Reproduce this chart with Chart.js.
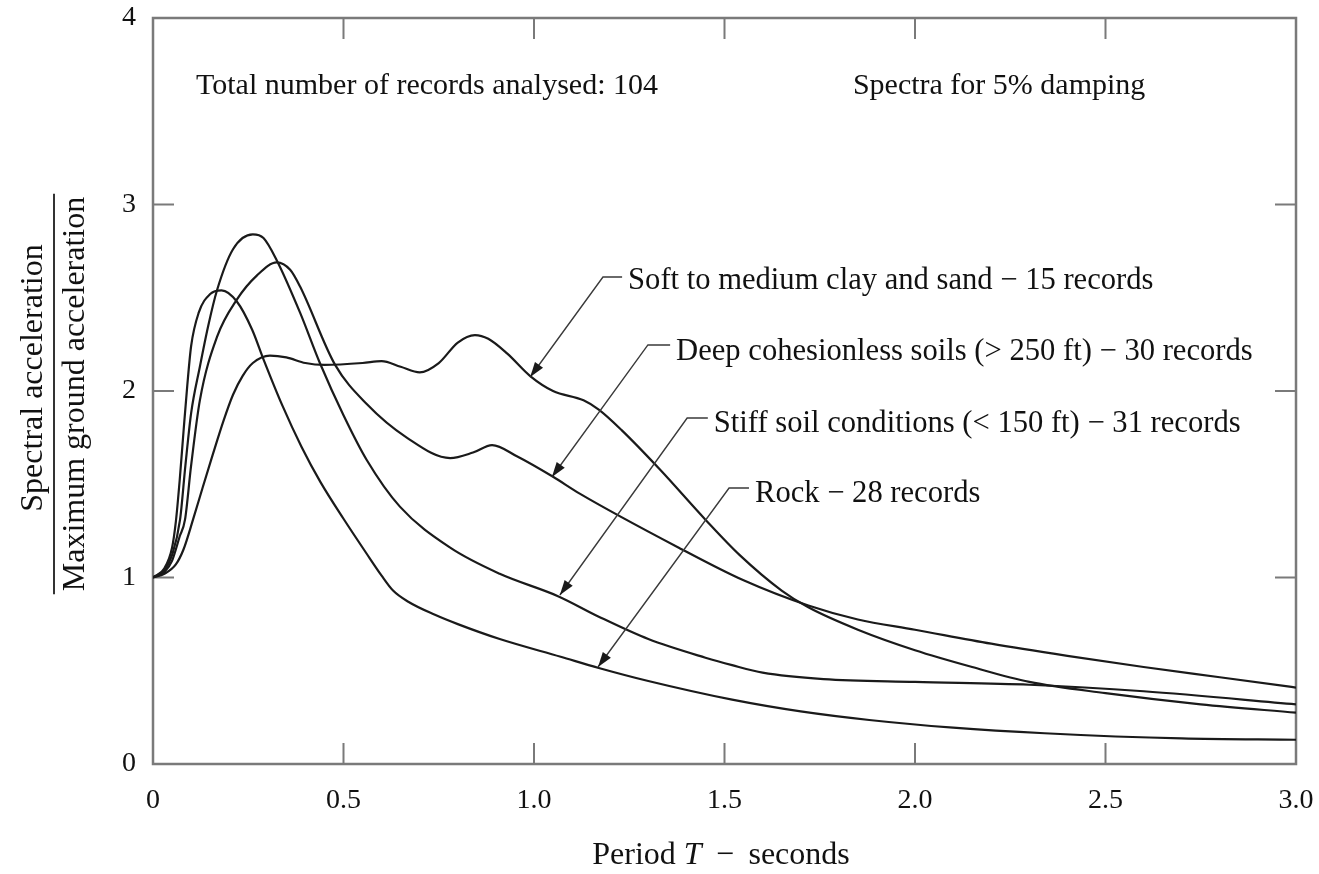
<!DOCTYPE html>
<html>
<head>
<meta charset="utf-8">
<title>Average acceleration spectra</title>
<script src="https://cdn.jsdelivr.net/npm/chart.js@4.4.1/dist/chart.umd.min.js"></script>
<style>
body { margin: 0; background: #ffffff; }
#box { width: 1319px; height: 874px; position: relative; }
</style>
</head>
<body>
<div id="box"><canvas id="myCanvas"></canvas></div>
<script>
// period T (s) and spectral / ground acceleration
var rockT  = [0, 0.03, 0.05, 0.06, 0.07, 0.08, 0.09, 0.1, 0.12, 0.15, 0.18, 0.22, 0.26, 0.29, 0.34, 0.39, 0.44, 0.5, 0.56, 0.6, 0.63, 0.67, 0.74, 0.8, 0.91, 1.07, 1.17, 1.3, 1.52, 1.7, 1.88, 2.1, 2.34, 2.7, 3.0];
var rockSa = [1, 1.05, 1.16, 1.3, 1.52, 1.78, 2.03, 2.24, 2.42, 2.52, 2.54, 2.48, 2.33, 2.17, 1.92, 1.70, 1.51, 1.315, 1.13, 1.01, 0.93, 0.87, 0.80, 0.75, 0.67, 0.575, 0.515, 0.445, 0.345, 0.282, 0.236, 0.195, 0.165, 0.137, 0.13];

var stiffT  = [0, 0.03, 0.05, 0.071, 0.085, 0.1, 0.123, 0.145, 0.168, 0.21, 0.262, 0.29, 0.325, 0.386, 0.438, 0.5, 0.561, 0.648, 0.78, 0.91, 1.063, 1.17, 1.3, 1.45, 1.52, 1.6, 1.76, 2.0, 2.3, 2.6, 3.0];
var stiffSa = [1, 1.04, 1.12, 1.31, 1.6, 1.88, 2.13, 2.35, 2.54, 2.76, 2.84, 2.82, 2.7, 2.42, 2.15, 1.87, 1.63, 1.38, 1.16, 1.02, 0.9, 0.79, 0.67, 0.57, 0.53, 0.49, 0.455, 0.44, 0.425, 0.39, 0.32];

var deepT  = [0, 0.03, 0.05, 0.07, 0.084, 0.1, 0.123, 0.168, 0.22, 0.273, 0.325, 0.36, 0.386, 0.478, 0.561, 0.666, 0.78, 0.84, 0.89, 0.955, 1.05, 1.12, 1.38, 1.55, 1.72, 1.85, 2.0, 2.2, 2.4, 2.6, 2.8, 3.0];
var deepSa = [1, 1.03, 1.09, 1.22, 1.31, 1.6, 1.95, 2.29, 2.49, 2.62, 2.69, 2.65, 2.56, 2.14, 1.93, 1.75, 1.64, 1.67, 1.71, 1.65, 1.54, 1.45, 1.16, 0.985, 0.85, 0.775, 0.72, 0.645, 0.58, 0.52, 0.465, 0.41];

var softT  = [0, 0.03, 0.06, 0.08, 0.105, 0.13, 0.157, 0.185, 0.21, 0.235, 0.262, 0.307, 0.35, 0.4, 0.45, 0.55, 0.6, 0.65, 0.7, 0.75, 0.8, 0.845, 0.88, 0.93, 0.99, 1.05, 1.13, 1.17, 1.23, 1.33, 1.45, 1.54, 1.65, 1.72, 1.85, 2.0, 2.15, 2.3, 2.5, 2.75, 3.0];
var softSa = [1, 1.02, 1.07, 1.15, 1.31, 1.48, 1.66, 1.84, 1.98, 2.08, 2.15, 2.19, 2.18, 2.15, 2.14, 2.15, 2.16, 2.13, 2.1, 2.15, 2.26, 2.3, 2.28, 2.2, 2.08, 2.0, 1.95, 1.9, 1.79, 1.58, 1.31, 1.12, 0.93, 0.84, 0.72, 0.61, 0.52, 0.44, 0.38, 0.32, 0.275];

var xTicks = [0, 0.5, 1.0, 1.5, 2.0, 2.5, 3.0];
var yTicks = [0, 1, 2, 3, 4];

// curve labels: text, where the text starts, the elbow of the leader and the arrow tip
var labelText = ['Soft to medium clay and sand \u2212 15 records',
                 'Deep cohesionless soils (> 250 ft) \u2212 30 records',
                 'Stiff soil conditions (< 150 ft) \u2212 31 records',
                 'Rock \u2212 28 records'];
var labelAt  = [[1.247, 2.59], [1.373, 2.209], [1.472, 1.823], [1.580, 1.448]];
var elbowAt  = [[1.181, 2.611], [1.299, 2.247], [1.402, 1.855], [1.512, 1.48]];
var tipAt    = [[0.990, 2.075], [1.047, 1.539], [1.068, 0.906], [1.168, 0.52]];

var noteText = ['Total number of records analysed: 104', 'Spectra for 5% damping'];
var noteAt   = [[0.113, 3.635], [1.837, 3.635]];

var SERIF = "'Liberation Serif', 'DejaVu Serif', serif";

function pairs(t, v) {
	var out = [];
	for (var i = 0; i < t.length; i++) {
		out.push({ x: t[i], y: v[i] });
	}
	return out;
}

function curve(name, t, v) {
	return {
		label: name,
		data: pairs(t, v),
		borderColor: '#1a1a1a',
		borderWidth: 2.2,
		pointRadius: 0,
		fill: false,
		tension: 0.4,
		cubicInterpolationMode: 'monotone'
	};
}

// frame with inward ticks on all four sides
var framePlugin = {
	id: 'frame',
	beforeDatasetsDraw: function(chart) {
		var ctx = chart.ctx, a = chart.chartArea;
		var sx = chart.scales.x, sy = chart.scales.y;
		ctx.save();
		ctx.strokeStyle = '#7a7a7a';
		ctx.lineWidth = 2.5;
		ctx.strokeRect(a.left, a.top, a.right - a.left, a.bottom - a.top);
		ctx.lineWidth = 2;
		ctx.beginPath();
		xTicks.forEach(function(v) {
			var px = sx.getPixelForValue(v);
			ctx.moveTo(px, a.bottom); ctx.lineTo(px, a.bottom - 21);
			ctx.moveTo(px, a.top); ctx.lineTo(px, a.top + 21);
		});
		yTicks.forEach(function(v) {
			var py = sy.getPixelForValue(v);
			ctx.moveTo(a.left, py); ctx.lineTo(a.left + 21, py);
			ctx.moveTo(a.right, py); ctx.lineTo(a.right - 21, py);
		});
		ctx.stroke();
		ctx.restore();
	}
};

// texts, leader lines, arrows and axis titles
var textPlugin = {
	id: 'texts',
	afterDraw: function(chart) {
		var ctx = chart.ctx, a = chart.chartArea;
		var sx = chart.scales.x, sy = chart.scales.y;
		function X(v) { return sx.getPixelForValue(v); }
		function Y(v) { return sy.getPixelForValue(v); }
		ctx.save();
		ctx.fillStyle = '#111';
		ctx.font = '30px ' + SERIF;
		ctx.textBaseline = 'middle';
		ctx.textAlign = 'left';

		for (var i = 0; i < noteText.length; i++) {
			ctx.fillText(noteText[i], X(noteAt[i][0]), Y(noteAt[i][1]));
		}

		ctx.font = '30.6px ' + SERIF;
		for (var j = 0; j < labelText.length; j++) {
			var tx = X(labelAt[j][0]), ty = Y(labelAt[j][1]);
			var ex = X(elbowAt[j][0]), ey = Y(elbowAt[j][1]);
			var px = X(tipAt[j][0]), py = Y(tipAt[j][1]);
			ctx.fillStyle = '#111';
			ctx.fillText(labelText[j], tx, ty);
			// leader
			ctx.strokeStyle = '#3a3a3a';
			ctx.lineWidth = 1.4;
			ctx.beginPath();
			ctx.moveTo(tx - 6, ey);
			ctx.lineTo(ex, ey);
			ctx.lineTo(px, py);
			ctx.stroke();
			// arrow head
			var ang = Math.atan2(py - ey, px - ex);
			var len = 15, half = 5;
			ctx.fillStyle = '#1a1a1a';
			ctx.beginPath();
			ctx.moveTo(px, py);
			ctx.lineTo(px - len * Math.cos(ang) + half * Math.sin(ang), py - len * Math.sin(ang) - half * Math.cos(ang));
			ctx.lineTo(px - len * Math.cos(ang) - half * Math.sin(ang), py - len * Math.sin(ang) + half * Math.cos(ang));
			ctx.closePath();
			ctx.fill();
		}

		// x axis title with italic T
		ctx.fillStyle = '#111';
		var y0 = 856;
		var p1 = 'Period ', p2 = 'T', p3 = '\u2009 \u2212 \u2009seconds';
		ctx.font = '32px ' + SERIF;
		var w1 = ctx.measureText(p1).width, w3 = ctx.measureText(p3).width;
		ctx.font = 'italic 32px ' + SERIF;
		var w2 = ctx.measureText(p2).width;
		var x0 = 721 - (w1 + w2 + w3) / 2;
		ctx.font = '32px ' + SERIF;
		ctx.fillText(p1, x0, y0);
		ctx.font = 'italic 32px ' + SERIF;
		ctx.fillText(p2, x0 + w1, y0);
		ctx.font = '32px ' + SERIF;
		ctx.fillText(p3, x0 + w1 + w2, y0);

		// y axis title as a fraction
		ctx.font = '32px ' + SERIF;
		var half = ctx.measureText('Maximum ground acceleration').width / 2 + 3;
		ctx.translate(0, 394);
		ctx.rotate(-Math.PI / 2);
		ctx.textAlign = 'center';
		ctx.fillText('Spectral acceleration', 16, 34);
		ctx.fillText('Maximum ground acceleration', 0, 76);
		ctx.strokeStyle = '#333';
		ctx.lineWidth = 2;
		ctx.beginPath();
		ctx.moveTo(-half, 54);
		ctx.lineTo(half, 54);
		ctx.stroke();
		ctx.restore();
	}
};

var ctx = document.getElementById('myCanvas').getContext('2d');
var myChart = new Chart(ctx, {
	type: 'line',
	data: {
		datasets: [
			curve('Rock', rockT, rockSa),
			curve('Stiff soil', stiffT, stiffSa),
			curve('Deep cohesionless soils', deepT, deepSa),
			curve('Soft to medium clay and sand', softT, softSa)
		]
	},
	options: {
		responsive: true,
		maintainAspectRatio: false,
		animation: false,
		layout: { padding: { top: 18, right: 23, left: 0, bottom: 0 } },
		scales: {
			x: {
				type: 'linear',
				min: 0,
				max: 3,
				afterFit: function(s) {
					s.height = 110;
					s.paddingLeft = 0; s.paddingRight = 0;
				},
				afterBuildTicks: function(s) { s.ticks = xTicks.map(function(v) { return { value: v }; }); },
				grid: { display: false, drawTicks: false },
				border: { display: false },
				ticks: {
					padding: 20,
					color: '#111',
					font: { family: SERIF, size: 28 },
					callback: function(v) { return v === 0 ? '0' : v.toFixed(1); }
				}
			},
			y: {
				min: 0,
				max: 4,
				afterFit: function(s) {
					s.width = 153;
					s.paddingTop = 0; s.paddingBottom = 0;
				},
				afterBuildTicks: function(s) { s.ticks = yTicks.map(function(v) { return { value: v }; }); },
				grid: { display: false, drawTicks: false },
				border: { display: false },
				ticks: {
					padding: 17,
					color: '#111',
					font: { family: SERIF, size: 28 }
				}
			}
		},
		plugins: {
			legend: { display: false },
			tooltip: { enabled: false }
		}
	},
	plugins: [framePlugin, textPlugin]
});
</script>
</body>
</html>
